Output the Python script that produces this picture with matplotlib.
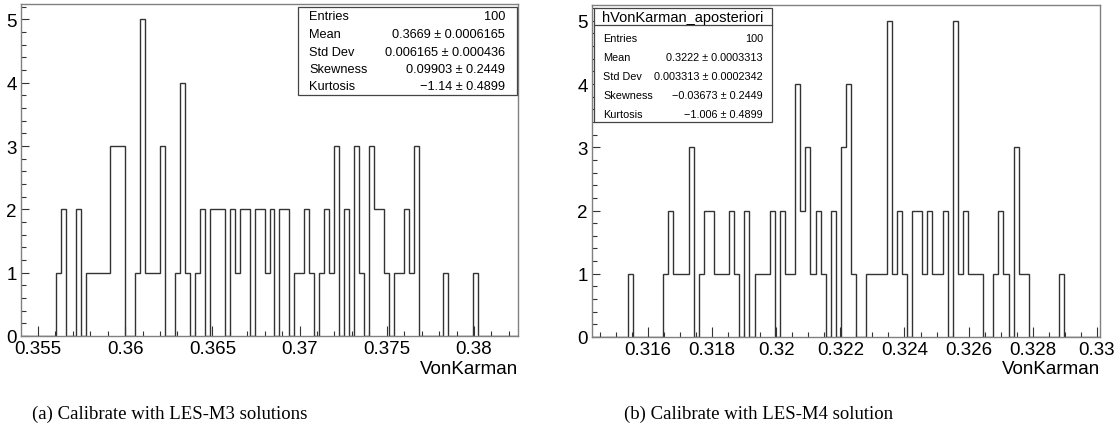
import numpy as np
import matplotlib
matplotlib.use("Agg")
import matplotlib.pyplot as plt
from matplotlib.patches import Rectangle
from matplotlib.ticker import MultipleLocator, FixedLocator

# ---------------- data ----------------
# (a) LES-M3 : 100 bins
counts_a = [0, 0, 0, 0, 0, 0, 0, 1, 2, 0,
            0, 2, 0, 1, 1, 1, 1, 1, 3, 3,
            3, 0, 0, 1, 5, 1, 1, 1, 3, 0,
            0, 1, 4, 1, 0, 1, 2, 0, 2, 2,
            2, 0, 2, 1, 2, 2, 0, 2, 2, 1,
            2, 0, 2, 2, 0, 1, 1, 2, 1, 0,
            1, 2, 1, 3, 0, 2, 0, 3, 1, 0,
            3, 2, 2, 1, 0, 1, 1, 2, 1, 3,
            0, 0, 0, 0, 0, 1, 0, 0, 0, 0,
            0, 1, 0, 0, 0, 0, 0, 0, 0, 0]
range_a = (0.35403, 0.38252)
xticks_a = [0.355, 0.36, 0.365, 0.37, 0.375, 0.38]
xticklabels_a = ["0.355", "0.36", "0.365", "0.37", "0.375", "0.38"]
stats_a = [("Entries", "100"),
           ("Mean", "0.3669 \u00b1 0.0006165"),
           ("Std Dev", "0.006165 \u00b1 0.000436"),
           ("Skewness", "0.09903 \u00b1 0.2449"),
           ("Kurtosis", "\u22121.14 \u00b1 0.4899")]

# (b) LES-M4 : 100 bins
counts_b = [0, 0, 0, 0, 0, 0, 0, 1, 0, 0,
            0, 0, 0, 0, 1, 2, 1, 1, 1, 3,
            0, 1, 2, 2, 1, 1, 1, 2, 1, 0,
            2, 0, 1, 1, 1, 2, 0, 2, 1, 1,
            4, 2, 3, 1, 2, 1, 0, 2, 0, 3,
            4, 1, 0, 0, 1, 1, 1, 1, 5, 1,
            2, 1, 0, 2, 2, 1, 2, 1, 1, 2,
            0, 5, 1, 2, 1, 1, 1, 0, 0, 1,
            2, 1, 0, 3, 1, 1, 0, 0, 0, 0,
            0, 0, 1, 0, 0, 0, 0, 0, 0, 0]
range_b = (0.31425, 0.33010)
xticks_b = [0.316, 0.318, 0.32, 0.322, 0.324, 0.326, 0.328, 0.33]
xticklabels_b = ["0.316", "0.318", "0.32", "0.322", "0.324", "0.326", "0.328", "0.33"]
title_b = "hVonKarman_aposteriori"
stats_b = [("Entries", "100"),
           ("Mean", "0.3222 \u00b1 0.0003313"),
           ("Std Dev", "0.003313 \u00b1 0.0002342"),
           ("Skewness", "\u22120.03673 \u00b1 0.2449"),
           ("Kurtosis", "\u22121.006 \u00b1 0.4899")]

yticks = [0, 1, 2, 3, 4, 5]
xlabel = "VonKarman"
caption_a = "(a) Calibrate with LES-M3 solutions"
caption_b = "(b) Calibrate with LES-M4 solution"

# ---------------- figure ----------------
W, H = 1118, 439
plt.rcParams['font.family'] = ['Liberation Sans', 'DejaVu Sans']
fig = plt.figure(figsize=(W / 100, H / 100), dpi=100)
fig.patch.set_facecolor("white")


def fx(px):
    return px / W


def fy(py):
    return 1 - py / H


def make_axes(left, top, right, bottom):
    return fig.add_axes([fx(left), fy(bottom), fx(right) - fx(left), fy(top) - fy(bottom)])


HIST_C = "#333333"
FRAME_C = "#808080"


def style_axes(ax, counts, rng, xt, xtl, minor_step):
    n = len(counts)
    edges = np.linspace(rng[0], rng[1], n + 1)
    ax.stairs(counts, edges, baseline=0, color=HIST_C, lw=1.0)
    ax.set_xlim(rng)
    ax.set_ylim(0, 5.25)
    ax.xaxis.set_major_locator(FixedLocator(xt))
    ax.set_xticklabels(xtl)
    ax.xaxis.set_minor_locator(MultipleLocator(minor_step))
    ax.yaxis.set_major_locator(FixedLocator(yticks))
    ax.yaxis.set_minor_locator(MultipleLocator(0.2))
    ax.tick_params(axis='x', which='major', direction='in', length=7.5, width=0.8,
                   color=HIST_C, labelsize=13.5, pad=3, top=False)
    ax.tick_params(axis='x', which='minor', direction='in', length=3.8, width=0.8,
                   color=HIST_C, top=False)
    ax.tick_params(axis='y', which='major', direction='in', length=6, width=0.8,
                   color=HIST_C, labelsize=13.5, pad=3, right=False)
    ax.tick_params(axis='y', which='minor', direction='in', length=3.5, width=0.8,
                   color=HIST_C, right=False)
    for s in ax.spines.values():
        s.set_color(FRAME_C)
        s.set_linewidth(1.0)


# (a)
ax1 = make_axes(21, 4.5, 518, 337)
style_axes(ax1, counts_a, range_a, xticks_a, xticklabels_a, 0.001)
fig.text(fx(518), fy(370), xlabel, ha='right', va='center', fontsize=13.5)

# (b)
ax2 = make_axes(592, 6, 1100, 338)
style_axes(ax2, counts_b, range_b, xticks_b, xticklabels_b, 0.0005)
fig.text(fx(1100), fy(370), xlabel, ha='right', va='center', fontsize=13.5)

# stats box (a)
x0, y0, x1, y1 = 298, 8, 517, 96
fig.add_artist(Rectangle((fx(x0), fy(y1)), fx(x1) - fx(x0), fy(y0) - fy(y1),
                         transform=fig.transFigure, facecolor='white',
                         edgecolor='#444444', lw=0.9, zorder=5))
rows_y = [17, 35, 53, 70, 87]
for (k, v), yy in zip(stats_a, rows_y):
    fig.text(fx(309), fy(yy), k, ha='left', va='center', fontsize=9.2, zorder=6)
    fig.text(fx(505), fy(yy), v, ha='right', va='center', fontsize=9.2, zorder=6)

# stats box (b)
x0, y0, x1, y1 = 594, 9, 772, 123
fig.add_artist(Rectangle((fx(x0), fy(y1)), fx(x1) - fx(x0), fy(y0) - fy(y1),
                         transform=fig.transFigure, facecolor='white',
                         edgecolor='#444444', lw=0.9, zorder=5))
fig.add_artist(plt.Line2D([fx(x0), fx(x1)], [fy(26), fy(26)], transform=fig.transFigure,
                          color='#444444', lw=0.9, zorder=6))
fig.text(fx((x0 + x1) / 2), fy(18), title_b, ha='center', va='center', fontsize=10.5, zorder=6)
rows_y = [39, 58, 77, 96, 115]
for (k, v), yy in zip(stats_b, rows_y):
    fig.text(fx(603), fy(yy), k, ha='left', va='center', fontsize=7.8, zorder=6)
    fig.text(fx(763), fy(yy), v, ha='right', va='center', fontsize=7.8, zorder=6)

# captions
fig.text(fx(170), fy(414), caption_a, ha='center', va='center', fontsize=13.5,
         family=['Liberation Serif', 'DejaVu Serif'])
fig.text(fx(759), fy(414), caption_b, ha='center', va='center', fontsize=13.5,
         family=['Liberation Serif', 'DejaVu Serif'])

fig.savefig("out.png", dpi=100, facecolor='white')
